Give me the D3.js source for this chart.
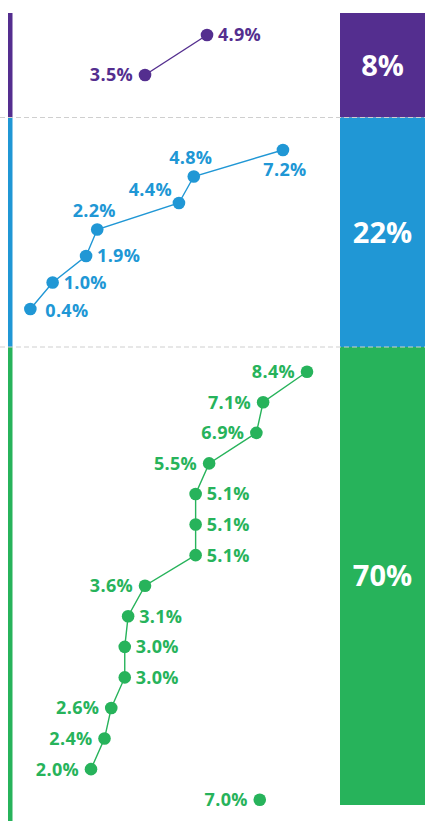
<!DOCTYPE html>
<html>
<head>
<meta charset="utf-8">
<script src="https://cdn.jsdelivr.net/npm/d3@7"></script>
<style>
  body { margin: 0; background: #fff; }
  text { font-family: "Open Sans", sans-serif; font-weight: 700; }
</style>
</head>
<body>
<svg id="chart"></svg>
<script>
// values shown next to each dot, top to bottom, per group
const purpleValues = [4.9, 3.5];
const blueValues = [7.2, 4.8, 4.4, 2.2, 1.9, 1.0, 0.4];
const greenValues = [8.4, 7.1, 6.9, 5.5, 5.1, 5.1, 5.1, 3.6, 3.1, 3.0, 3.0, 2.6, 2.4, 2.0];
const greenSummary = [7.0];   // last green dot, not joined to the line

// share of each group (right hand boxes)
const groupShares = [8, 22, 70];

// where each label sits relative to its dot
const purpleLabelPos = ["r", "l"];
const blueLabelPos = ["b", "t", "tl", "t", "r", "r", "br"];
const greenLabelPos = ["l", "l", "l", "l", "r", "r", "r", "l", "r", "r", "r", "l", "l", "l"];
const greenSummaryPos = ["l"];

const colors = ["#542e8f", "#2097d5", "#27b35b"];

const width = 425;
const height = 821;

const offsets = {
  l:  { dx: -12, dy: 0,   anchor: "end" },
  r:  { dx: 11,  dy: 0,   anchor: "start" },
  t:  { dx: -3,  dy: -19, anchor: "middle" },
  b:  { dx: 2,   dy: 20,  anchor: "middle" },
  tl: { dx: -7,  dy: -13, anchor: "end" },
  br: { dx: 15,  dy: 2,   anchor: "start" }
};

const panels = [
  { values: purpleValues, pos: purpleLabelPos, extra: [], extraPos: [],
    top: 13, bottom: 117.5, barBottom: 117.5, xRange: [-10, 388.6], yRange: [35, 75] },
  { values: blueValues, pos: blueLabelPos, extra: [], extraPos: [],
    top: 117.5, bottom: 347, barBottom: 347, xRange: [15.5, 349.8], yRange: [150, 309] },
  { values: greenValues, pos: greenLabelPos, extra: greenSummary, extraPos: greenSummaryPos,
    top: 347, bottom: 805, barBottom: height, xRange: [23.5, 327.25], yRange: [371.7, 799.7] }
];

const svg = d3.select("#chart")
  .attr("width", width)
  .attr("height", height);

const boxX = 340;

panels.forEach((p, i) => {
  const color = colors[i];
  const rows = p.values.map((v, j) => ({ v, pos: p.pos[j], idx: j, joined: true }))
    .concat(p.extra.map((v, j) => ({ v, pos: p.extraPos[j], idx: p.values.length + j, joined: false })));

  const x = d3.scaleLinear().domain([0, 9]).range(p.xRange);
  const y = d3.scalePoint().domain(d3.range(rows.length)).range(p.yRange);

  const g = svg.append("g");

  // thin bar on the left
  g.append("rect")
    .attr("x", 8)
    .attr("y", p.top)
    .attr("width", 4.5)
    .attr("height", p.barBottom - p.top)
    .attr("fill", color);

  // share box on the right
  g.append("rect")
    .attr("x", boxX)
    .attr("y", p.top)
    .attr("width", width - boxX)
    .attr("height", p.bottom - p.top)
    .attr("fill", color);

  g.append("text")
    .attr("x", boxX + (width - boxX) / 2)
    .attr("y", (p.top + p.bottom) / 2)
    .attr("dy", "0.36em")
    .attr("text-anchor", "middle")
    .attr("font-size", 29)
    .attr("fill", "#fff")
    .text(groupShares[i] + "%");

  const line = d3.line()
    .x(d => x(d.v))
    .y(d => y(d.idx));

  g.append("path")
    .datum(rows.filter(d => d.joined))
    .attr("d", line)
    .attr("fill", "none")
    .attr("stroke", color)
    .attr("stroke-width", 1.4);

  g.selectAll("circle")
    .data(rows)
    .join("circle")
    .attr("cx", d => x(d.v))
    .attr("cy", d => y(d.idx))
    .attr("r", 6.3)
    .attr("fill", color);

  g.selectAll("text.lbl")
    .data(rows)
    .join("text")
    .attr("class", "lbl")
    .attr("x", d => x(d.v) + offsets[d.pos].dx)
    .attr("y", d => y(d.idx) + offsets[d.pos].dy)
    .attr("dy", "0.36em")
    .attr("text-anchor", d => offsets[d.pos].anchor)
    .attr("font-size", 18)
    .attr("letter-spacing", 0.3)
    .attr("fill", color)
    .text(d => d.v.toFixed(1) + "%");
});

// dashed separators between groups
svg.selectAll("line.sep")
  .data([117.5, 347])
  .join("line")
  .attr("class", "sep")
  .attr("x1", 0)
  .attr("x2", width)
  .attr("y1", d => d)
  .attr("y2", d => d)
  .attr("stroke", "#cfcfcf")
  .attr("stroke-width", 1)
  .attr("stroke-dasharray", "5,3");
</script>
</body>
</html>
